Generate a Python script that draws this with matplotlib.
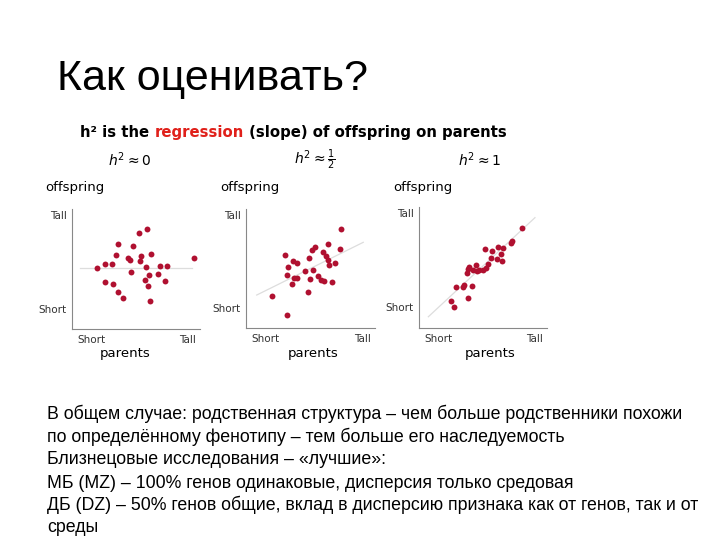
import matplotlib
matplotlib.use("Agg")
import matplotlib.pyplot as plt
import numpy as np

# Данные: точки на трёх диаграммах (условные единицы 0..10)
p0_x = [5.89, 5.26, 3.62, 4.74, 3.41, 6.17, 5.36, 4.38, 4.56, 5.29, 9.51, 1.93, 2.58, 3.10,
        5.81, 6.88, 7.40, 4.64, 6.04, 6.72, 5.70, 7.29, 2.58, 3.20, 5.91, 3.59, 3.98, 6.07]
p0_y = [8.33, 8.00, 7.11, 6.94, 6.19, 6.22, 6.11, 5.94, 5.72, 5.69, 5.89, 5.06, 5.39, 5.42,
        5.19, 5.22, 5.22, 4.72, 4.47, 4.61, 4.06, 3.97, 3.92, 3.72, 3.56, 3.11, 2.61, 2.31]

p1_x = [7.36, 6.36, 7.26, 5.35, 5.12, 3.05, 5.94, 4.91, 6.23, 6.33, 3.64, 3.93, 3.28, 6.41, 6.90,
        4.60, 5.19, 3.15, 5.56, 3.72, 3.93, 4.99, 5.81, 6.07, 6.69, 3.59, 4.83, 2.04, 3.20]
p1_y = [8.32, 7.03, 6.61, 6.83, 6.55, 6.13, 6.39, 5.91, 6.02, 5.71, 5.63, 5.46, 5.13, 5.29, 5.43,
        4.79, 4.85, 4.43, 4.40, 4.18, 4.23, 4.09, 4.06, 3.97, 3.87, 3.67, 3.00, 2.66, 1.07]

p2_x = [8.05, 7.27, 7.16, 6.20, 6.56, 5.16, 5.73, 6.38, 5.60, 6.09, 6.48, 5.36, 3.91, 4.43,
        3.85, 4.22, 4.53, 4.71, 5.00, 5.26, 3.75, 2.87, 3.41, 3.54, 4.17, 2.47, 2.73, 3.85]
p2_y = [8.26, 7.19, 7.02, 6.72, 6.64, 6.53, 6.34, 6.09, 5.76, 5.68, 5.54, 5.32, 5.07, 5.21,
        4.90, 4.82, 4.74, 4.77, 4.79, 4.93, 4.52, 3.42, 3.42, 3.55, 3.47, 2.21, 1.76, 2.48]

# Линии регрессии (концы)
fit_x = [[0.63, 9.35], [0.83, 9.09], [0.73, 9.06]]
fit_y = [[5.06, 5.06], [2.77, 7.20], [0.93, 9.12]]

subtitles = [r"$h^2 \approx 0$", r"$h^2 \approx \frac{1}{2}$", r"$h^2 \approx 1$"]

body_lines = [
    "В общем случае: родственная структура – чем больше родственники похожи",
    "по определённому фенотипу – тем больше его наследуемость",
    "Близнецовые исследования – «лучшие»:",
    "МБ (MZ) – 100% генов одинаковые, дисперсия только средовая",
    "ДБ (DZ) – 50% генов общие, вклад в дисперсию признака как от генов, так и от",
    "среды",
]

W, H = 720, 540
DOT = "#b01030"
FIT = "#dddddd"
SPINE = "#888888"


def fx(px):
    return px / W


def fy(py):
    return 1 - py / H


fig = plt.figure(figsize=(7.2, 5.4), dpi=100)
fig.patch.set_facecolor("white")
renderer = fig.canvas.get_renderer()

# Заголовок слайда
fig.text(fx(57), fy(79), "Как оценивать?", fontsize=31, family="Liberation Sans",
         va="center", ha="left", color="black")

# Заголовок картинки из трёх частей
parts = [("h² is the ", "black"), ("regression", "#e0201a"),
         (" (slope) of offspring on parents", "black")]
x0 = fx(80)
for txt, col in parts:
    t = fig.text(x0, fy(133), txt, fontsize=10.7, fontweight="bold", color=col,
                 va="center", ha="left", family="DejaVu Sans")
    bb = t.get_window_extent(renderer=renderer)
    x0 += bb.width / W

# Панели: (left, top, right, bottom) в пикселях
boxes = [(72, 209, 200, 329), (246, 209, 375, 328), (419, 207, 547, 328)]
sub_x = [130, 315, 480]
offs_x = [45, 220, 393]
par_x = [125, 313, 490]
xs = [p0_x, p1_x, p2_x]
ys = [p0_y, p1_y, p2_y]

for i, (l, t, r, b) in enumerate(boxes):
    ax = fig.add_axes([fx(l), fy(b), (r - l) / W, (b - t) / H])
    ax.plot(fit_x[i], fit_y[i], color=FIT, lw=0.9, zorder=1)
    ax.scatter(xs[i], ys[i], s=18, color=DOT, zorder=2, linewidths=0)
    ax.set_xlim(0, 10)
    ax.set_ylim(0, 10)
    for s in ["top", "right"]:
        ax.spines[s].set_visible(False)
    for s in ["left", "bottom"]:
        ax.spines[s].set_color(SPINE)
        ax.spines[s].set_linewidth(0.8)
    ax.set_xticks([1.5, 9.0])
    ax.set_xticklabels(["Short", "Tall"])
    ax.set_yticks([1.7, 9.5])
    ax.set_yticklabels(["Short", "Tall"])
    ax.tick_params(length=0, labelsize=7.5, labelcolor="#333333", pad=4)
    ax.set_facecolor("none")

    fig.text(fx(sub_x[i]), fy(160), subtitles[i], fontsize=10, ha="center", va="center")
    fig.text(fx(offs_x[i]), fy(188), "offspring", fontsize=9.5, ha="left", va="center")
    fig.text(fx(par_x[i]), fy(354), "parents", fontsize=9.5, ha="center", va="center")

# Текст внизу слайда: размер шрифта подбираем по ширине первой строки
probe = fig.text(0, 0, body_lines[0], fontsize=12, family="Liberation Sans")
w0 = probe.get_window_extent(renderer=renderer).width
probe.remove()
body_size = 12 * 636 / w0

line_y = [414, 437, 460, 483, 505, 527]
for txt, yy in zip(body_lines, line_y):
    fig.text(fx(47), fy(yy), txt, fontsize=body_size,
             family="Liberation Sans", va="center", ha="left")

fig.savefig("out.png", dpi=100)
